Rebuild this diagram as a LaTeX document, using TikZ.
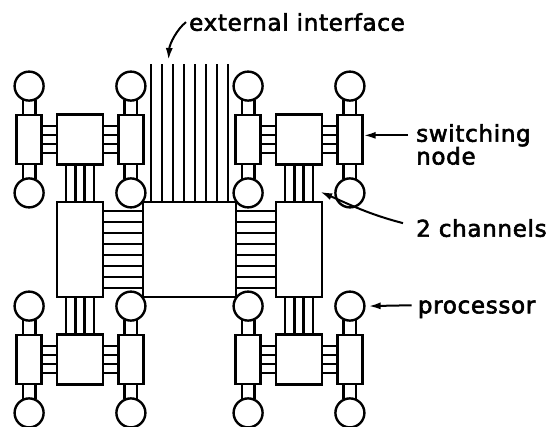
\documentclass[tikz,border=0pt]{standalone}
\usepackage{fontspec}
\setmainfont{DejaVu Sans}
\newfontfamily\notefont[FakeBold=2.5,LetterSpace=3]{DejaVu Sans}
\usetikzlibrary{arrows.meta,positioning}

\begin{document}
\begin{tikzpicture}[
  x=1pt, y=-1pt,
  line width=2.4pt,
  >={Latex[length=12pt,width=7pt]},
  every node/.style={inner sep=0pt},
  note/.style={font=\notefont\fontsize{23}{27}\selectfont, anchor=base west},
  proc/.style={draw, circle, minimum size=29pt},
  switch/.style={draw, minimum width=25pt, minimum height=49pt},
  router/.style={draw, minimum width=46pt, minimum height=50pt},
  bigbox/.style={draw, minimum width=46pt, minimum height=95pt},
  arr/.style={->, line width=2pt}
]
\useasboundingbox (0,0) rectangle (559,427);

\foreach \c/\x/\y in {nw/80/139.5, ne/299/139.5, sw/80/359.5, se/299/359.5}{
  \node[router] (\c) at (\x,\y) {};
  \node[switch, left=13pt of \c] (\c-l) {};
  \node[switch, right=13pt of \c] (\c-r) {};
  \foreach \s in {l,r}{
    \node[proc, above=12pt of \c-\s] (\c-\s-up) {};
    \node[proc, below=12pt of \c-\s] (\c-\s-dn) {};
    \draw (\c-\s-up.-66) -- (\c-\s-up.-66 |- \c-\s.north)
          (\c-\s-up.-114) -- (\c-\s-up.-114 |- \c-\s.north)
          (\c-\s-dn.66) -- (\c-\s-dn.66 |- \c-\s.south)
          (\c-\s-dn.114) -- (\c-\s-dn.114 |- \c-\s.south);
  }
  \foreach \d in {-13.5,-4.5,4.5,13.5}{
    \draw ([yshift=\d pt]\c-l.east) -- ([yshift=\d pt]\c.west);
    \draw ([yshift=\d pt]\c.east) -- ([yshift=\d pt]\c-r.west);
  }
}

\node[bigbox] (wbox) at (80,249.5) {};
\node[bigbox] (ebox) at (299,249.5) {};
\node[draw, minimum width=93pt, minimum height=95pt] (hub) at (189.5,249.5) {};

\foreach \d in {-13.8,-4.6,4.6,13.8}{
  \draw ([xshift=\d pt]nw.south) -- ([xshift=\d pt]wbox.north);
  \draw ([xshift=\d pt]sw.north) -- ([xshift=\d pt]wbox.south);
  \draw ([xshift=\d pt]ne.south) -- ([xshift=\d pt]ebox.north);
  \draw ([xshift=\d pt]se.north) -- ([xshift=\d pt]ebox.south);
}
\foreach \d in {-38.5,-27.5,-16.5,-5.5,5.5,16.5,27.5,38.5}{
  \draw ([yshift=\d pt]wbox.east) -- ([yshift=\d pt]hub.west);
  \draw ([yshift=\d pt]hub.east) -- ([yshift=\d pt]ebox.west);
  \draw ([xshift=\d pt]hub.north) -- ++(0,-137);
}

\node[note] (ext) at (188,30.7) {external interface};
\node[note] (swa) at (415,141.7) {switching};
\node[note] (swb) at (415,164.5) {node};
\node[note] (chan) at (415,236.7) {2 channels};
\node[note] (proctext) at (416.7,313.3) {processor};
\coordinate (extin) at (168.5,60);

\draw[arr] ([xshift=-2pt]ext.west) .. controls +(-9,7) and +(1,-16) .. (extin);
\draw[arr] ([xshift=-7pt]swa.west) -- (swa.west -| ne-r.east);
\draw[arr] ([xshift=-12pt,yshift=5pt]chan.west) .. controls +(-35,-9) and +(28,12) .. ([xshift=-3pt,yshift=9pt]ebox.north east);
\draw[arr] ([xshift=-5pt,yshift=4pt]proctext.west) -- ([xshift=3pt]se-r-up.east);
\end{tikzpicture}
\end{document}
